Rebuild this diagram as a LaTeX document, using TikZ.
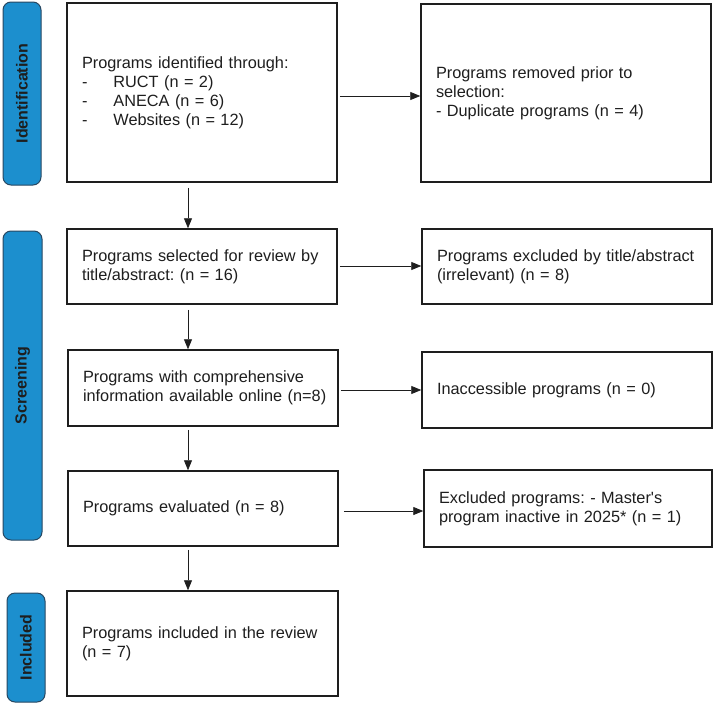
\documentclass[tikz,border=0pt]{standalone}
\usepackage{fontspec}
\setmainfont{Liberation Sans}
\usetikzlibrary{arrows.meta,calc}
\definecolor{barblue}{RGB}{28,143,206}
\definecolor{barline}{RGB}{40,72,98}
\definecolor{ink}{RGB}{30,30,30}
\frenchspacing
\begin{document}
\begin{tikzpicture}[x=1pt,y=-1pt,
  box/.style={draw=ink,line width=1.5pt,fill=white,align=left,inner xsep=15pt,inner ysep=0pt,
    font=\fontsize{16.3}{19}\selectfont,text=ink},
  bar/.style={draw=barline,line width=1pt,fill=barblue,rounded corners=8pt},
  bartext/.style={rotate=90,font=\bfseries\fontsize{16}{19}\selectfont,text=ink},
  arr/.style={draw=ink,line width=0.8pt,-{Triangle[length=10pt,width=8pt]}}]
\useasboundingbox[fill=white] (0,0) rectangle (714,704);

% phase bars
\node[bar,minimum width=38pt,minimum height=183pt] (idbar) at (22,93.5) {};
\node[bartext] at (idbar) {Identification};
\node[bar,minimum width=39pt,minimum height=309pt] (scbar) at (22.5,385.5) {};
\node[bartext] at (scbar) {Screening};
\node[bar,minimum width=38pt,minimum height=109pt] (inbar) at (26,647.5) {};
\node[bartext] at (inbar) {Included};

% boxes
\node[box,text width=240pt,minimum height=179pt] (b1) at (202,92.5)
  {Programs identified through:\\
   -\hspace{26pt}RUCT (n = 2)\\
   -\hspace{26pt}ANECA (n = 6)\\
   -\hspace{26pt}Websites (n = 12)};
\node[box,text width=260pt,minimum height=178pt] (b2) at (566,93)
  {Programs removed prior to\\selection:\\- Duplicate programs (n = 4)};
\node[box,text width=240pt,minimum height=75pt] (b3) at (202,266.5)
  {Programs selected for review by\\title/abstract: (n = 16)};
\node[box,text width=260pt,minimum height=75pt] (b4) at (567,266.5)
  {Programs excluded by title/abstract\\(irrelevant) (n = 8)};
\node[box,text width=240pt,minimum height=76pt] (b5) at (203,388)
  {Programs with comprehensive\\\mbox{information available online (n=8)}};
\node[box,text width=260pt,minimum height=76pt] (b6) at (567,390)
  {Inaccessible programs (n = 0)};
\node[box,text width=240pt,minimum height=75pt] (b7) at (203,508.5)
  {Programs evaluated (n = 8)};
\node[box,text width=258pt,minimum height=77pt] (b8) at (568,508.5)
  {Excluded programs: - Master\textquotesingle s\\program inactive in 2025* (n = 1)};
\node[box,text width=241pt,minimum height=105pt] (b9) at (202.5,643.5)
  {Programs included in the review\\(n = 7)};

% reference coordinates for connector lines
\coordinate (vx) at (188,0);
\coordinate (h1) at (0,96);
\coordinate (h2) at (0,266);
\coordinate (h3) at (0,390);
\coordinate (h4) at (0,511);

% vertical arrows
\draw[arr,shorten <=5pt] (b1.south -| vx) -- (b3.north -| vx);
\draw[arr,shorten <=5pt] (b3.south -| vx) -- (b5.north -| vx);
\draw[arr,shorten <=3pt] (b5.south -| vx) -- (b7.north -| vx);
\draw[arr,shorten <=3pt] (b7.south -| vx) -- (b9.north -| vx);

% horizontal arrows
\draw[arr,shorten <=2pt] (b1.east |- h1) -- (b2.west |- h1);
\draw[arr,shorten <=2pt] (b3.east |- h2) -- (b4.west |- h2);
\draw[arr,shorten <=2pt] (b5.east |- h3) -- (b6.west |- h3);
\draw[arr,shorten <=5pt] (b7.east |- h4) -- (b8.west |- h4);
\end{tikzpicture}
\end{document}
